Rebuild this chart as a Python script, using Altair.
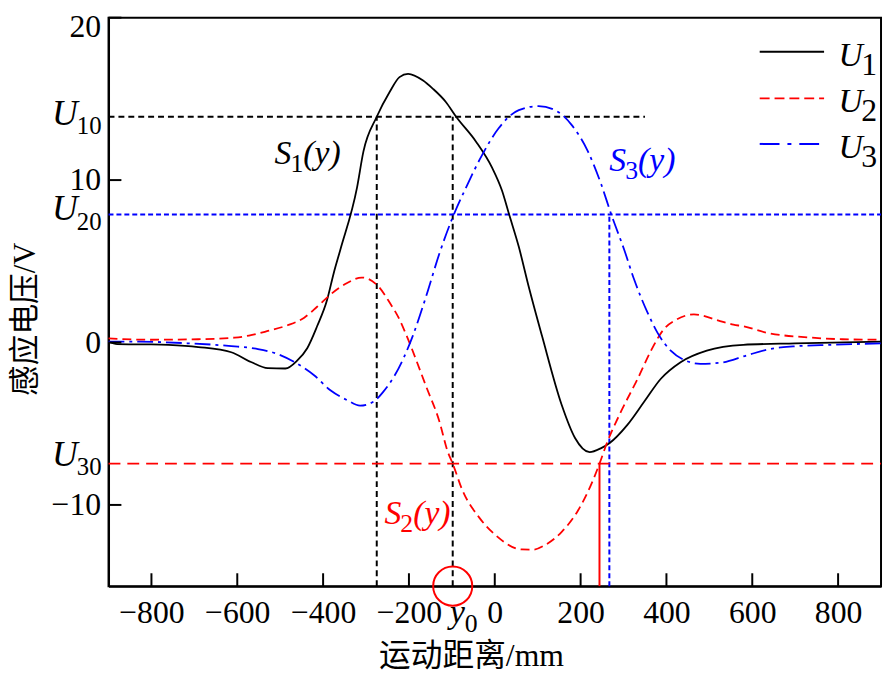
import altair as alt
import pandas as pd

# ---------------- data ----------------
u1_x = [-900, -880, -800, -760, -691, -614, -568, -529, -488, -460, -437, -414, -391, -375, -360,
        -321, -306, -275, -245, -222, -202, -167, -144, -114, -90, -44, -6, 17, 33, 56, 79, 110,
        156, 187, 221, 248, 267, 309, 348, 387, 433, 494, 579, 700, 900]
u1_y = [0.05, -0.1, -0.12, -0.15, -0.28, -0.6, -1.2, -1.58, -1.6, -1.1, -0.35, 1.0, 2.6, 4.3, 5.7,
        9.54, 11.77, 13.9, 15.42, 16.34, 16.54, 16.13, 15.62, 14.81, 13.9, 12.38, 10.75, 9.34, 7.92, 5.89, 3.45, 0.41,
        -3.85, -5.88, -6.75, -6.5, -6.2, -5.07, -3.65, -2.23, -1.21, -0.5, -0.14, -0.05, 0.05]

u2_x = [-900, -806, -691, -606, -568, -529, -483, -444, -414, -383, -344, -310, -271, -245, -222,
        -206, -160, -129, -110, -98, -75, -37, 2, 63, 90, 117, 156, 194, 225, 244, 263, 294, 333,
        364, 394, 424, 464, 525, 556, 579, 632, 733, 810, 900]
u2_y = [0.25, 0.17, 0.2, 0.3, 0.45, 0.71, 1.06, 1.53, 2.2, 2.95, 3.66, 4.0, 3.45, 2.46, 1.42,
        0.45, -2.7, -4.86, -6.69, -7.46, -9.12, -10.75, -11.86, -12.74, -12.75, -12.47, -11.66, -10.34, -8.72, -7.46, -6.07, -4.26, -2.23,
        -0.5, 0.82, 1.42, 1.73, 1.32, 1.1, 1.0, 0.61, 0.31, 0.2, 0.17]

u3_x = [-900, -829, -714, -614, -552, -506, -460, -421, -383, -344, -314, -283, -260, -233, -191,
        -160, -129, -98, -67, -29, 9, 56, 102, 140, 179, 217, 248, 271, 302, 325, 356, 379, 410,
        441, 479, 525, 586, 641, 695, 787, 900]
u3_y = [0.05, 0.05, -0.05, -0.22, -0.4, -0.71, -1.31, -2.02, -2.94, -3.55, -3.89, -3.65, -3.04, -2.02, 0.41,
        2.84, 5.48, 7.71, 9.54, 11.57, 13.19, 14.31, 14.55, 14.31, 13.4, 11.77, 9.74, 7.92, 5.68, 3.86, 1.84, 0.61, -0.5,
        -1.07, -1.31, -1.25, -0.8, -0.4, -0.24, -0.14, -0.05]

x_ticks = [-800, -600, -400, -200, 0, 200, 400, 600, 800]
y_ticks = [-10, 0, 10, 20]

u_levels = [13.9, 7.88, -7.46]        # U10, U20, U30
u_subs = ["10", "20", "30"]
y0 = -98
x_s1 = -275
x_s2 = 244
x_s3 = 267
u10_end = 350
x_min, x_max, y_min, y_max = -900, 900, -15, 20

s_subs = ["1", "2", "3"]
s_x = [-513, -257, 267]
s_y = [10.98, -11.17, 10.55]

legend_subs = ["1", "2", "3"]

# ---------------- styles ----------------
W, H = 780, 574
SERIF = "Times New Roman"
CJK = "Times New Roman, Noto Sans CJK SC"
BLACK, RED, BLUE = "#000000", "#ff0000", "#0000ff"

xscale = alt.Scale(domain=[x_min, x_max], nice=False, zero=False)
yscale = alt.Scale(domain=[y_min, y_max], nice=False, zero=False)

xaxis = alt.Axis(values=x_ticks, ticks=False, grid=False, labelFont=SERIF, labelFontSize=32,
                 labelColor="black", labelPadding=12, domainColor="black", domainWidth=2,
                 labelFlush=False,
                 title="运动距离/mm", titleFont=CJK, titleFontSize=32, titleFontWeight="normal",
                 titleColor="black", titleX=366, titleY=70, titleBaseline="middle", titleAlign="center")
yaxis = alt.Axis(values=y_ticks, ticks=False, grid=False, labelFont=SERIF, labelFontSize=32,
                 labelColor="black", labelPadding=8, domainColor="black", domainWidth=2,
                 labelFlush=True, labelFlushOffset=6,
                 title="感应电压/V", titleFont=CJK, titleFontSize=31, titleFontWeight="normal",
                 titleColor="black", titleX=-84, titleY=304, titleAngle=270,
                 titleBaseline="middle", titleAlign="center")


def X(f):
    return alt.X(f, type="quantitative", scale=xscale, axis=xaxis)


def Y(f):
    return alt.Y(f, type="quantitative", scale=yscale, axis=yaxis)


def curve(xs, ys, color, dash=None):
    df = pd.DataFrame({"x": xs, "y": ys})
    kw = dict(color=color, strokeWidth=1.8, interpolate="monotone")
    if dash:
        kw["strokeDash"] = dash
    return alt.Chart(df).mark_line(**kw).encode(x=X("x"), y=Y("y"))


def segs(xs, x2s, ys, y2s, color, width, dash=None):
    df = pd.DataFrame({"x": xs, "x2": x2s, "y": ys, "y2": y2s})
    kw = dict(color=color, strokeWidth=width)
    if dash:
        kw["strokeDash"] = dash
    return alt.Chart(df).mark_rule(**kw).encode(x=X("x"), x2="x2", y=Y("y"), y2="y2")


def text_at(xv, yv, txt, size, color, italic=False, dx=0, dy=0, align="left"):
    df = pd.DataFrame({"x": [xv], "y": [yv], "t": [txt]})
    return alt.Chart(df).mark_text(font=SERIF, fontSize=size, color=color,
                                   fontStyle="italic" if italic else "normal",
                                   align=align, baseline="alphabetic", dx=dx, dy=dy).encode(
        x=X("x"), y=Y("y"), text="t:N")


layers = []

# reference lines
layers.append(segs([x_min, x_s1, y0], [u10_end, x_s1, y0],
                   [u_levels[0], y_min, y_min], [u_levels[0], u_levels[0], u_levels[0]],
                   BLACK, 2, [6, 4]))
layers.append(segs([x_min, x_s3], [x_max, x_s3], [u_levels[1], y_min], [u_levels[1], u_levels[1]],
                   BLUE, 2, [5, 3]))
layers.append(segs([x_min], [x_max], [u_levels[2]], [u_levels[2]], RED, 1.8, [12, 7]))
layers.append(segs([x_s2], [x_s2], [y_min], [u_levels[2]], RED, 2))

# curves
layers.append(curve(u1_x, u1_y, BLACK))
layers.append(curve(u2_x, u2_y, RED, [9, 5]))
layers.append(curve(u3_x, u3_y, BLUE, [16, 5, 3, 5]))

# inward ticks
tx = pd.DataFrame({"x": x_ticks})
layers.append(alt.Chart(tx).mark_rule(color="black", strokeWidth=2).encode(
    x=X("x"), y=alt.value(H), y2=alt.value(H - 13)))
ty = pd.DataFrame({"y": y_ticks})
layers.append(alt.Chart(ty).mark_rule(color="black", strokeWidth=2).encode(
    y=Y("y"), x=alt.value(0), x2=alt.value(13)))

# red circle marking y0
layers.append(alt.Chart(pd.DataFrame({"x": [y0], "y": [y_min]})).mark_point(
    shape="circle", size=1560, filled=False, color=RED, strokeWidth=2, opacity=1).encode(
    x=X("x"), y=Y("y")))

# U10 / U20 / U30 labels at the left axis
u_dy = [8, 6, 2]
sub_dy = [17, 16, 11]
for lv, sb, d1, d2 in zip(u_levels, u_subs, u_dy, sub_dy):
    layers.append(text_at(x_min, lv, "U", 36, BLACK, italic=True, dx=-31, dy=d1, align="right"))
    layers.append(text_at(x_min, lv, sb, 25, BLACK, dx=-7, dy=d2, align="right"))

# y0 label under the axis
layers.append(text_at(-109, y_min, "y", 34, BLACK, italic=True, dx=2, dy=37))
layers.append(text_at(-109, y_min, "0", 26, BLACK, dx=17, dy=46))

# S1(y), S2(y), S3(y)
for sx, sy, sb, col in zip(s_x, s_y, s_subs, [BLACK, RED, BLUE]):
    layers.append(text_at(sx, sy, "S", 34, col, italic=True))
    layers.append(text_at(sx, sy, sb, 26, col, dx=16, dy=8))
    layers.append(text_at(sx, sy, "(y)", 34, col, italic=True, dx=29))

# legend (drawn by hand, top right)
leg_rows = [34.5, 81.5, 127.5]
leg_styles = [(BLACK, None), (RED, [10, 5]), (BLUE, [20, 8, 4, 8])]
one = pd.DataFrame({"a": [0]})
for ry, (col, dash), sb in zip(leg_rows, leg_styles, legend_subs):
    kw = dict(color=col, strokeWidth=2)
    if dash:
        kw["strokeDash"] = dash
    layers.append(alt.Chart(one).mark_rule(**kw).encode(
        x=alt.value(657.5), x2=alt.value(722.5), y=alt.value(ry), y2=alt.value(ry)))
    layers.append(alt.Chart(one).mark_text(font=SERIF, fontSize=34, fontStyle="italic", color="black",
                                           align="left", baseline="alphabetic").encode(
        x=alt.value(737), y=alt.value(ry + 14), text=alt.value("U")))
    layers.append(alt.Chart(one).mark_text(font=SERIF, fontSize=32, color="black",
                                           align="left", baseline="alphabetic").encode(
        x=alt.value(760), y=alt.value(ry + 23), text=alt.value(sb)))

chart = alt.layer(*layers).properties(
    width=W, height=H,
    autosize=alt.AutoSizeParams(type="none"),
    padding={"left": 101.5, "top": 6.5, "right": 2, "bottom": 90},
    background="white",
).configure_view(stroke="black", strokeWidth=2)

chart.save("out.html", embed_options={"renderer": "svg", "actions": False})
